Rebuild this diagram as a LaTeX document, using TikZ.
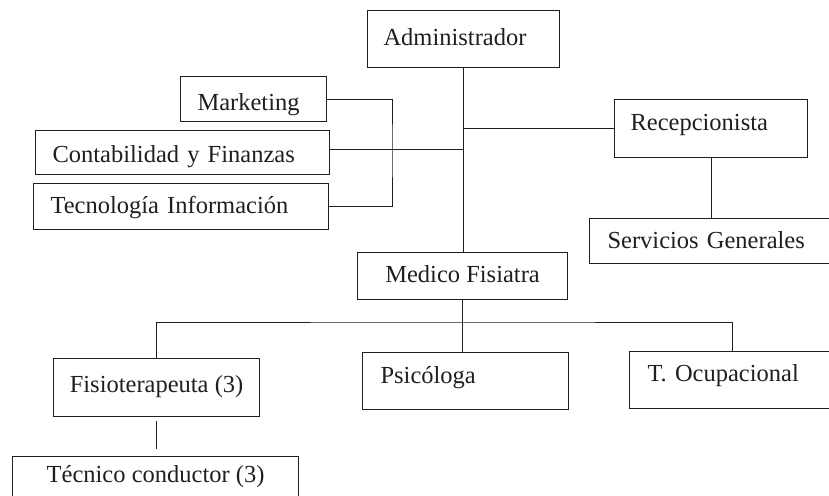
\documentclass[tikz,border=0pt]{standalone}
\usepackage{fontspec}
\setmainfont{Liberation Serif}
\usepackage{tikz}

\begin{document}
\begin{tikzpicture}[x=1pt,y=-1pt,line width=0.9pt,color=black!88,
		font=\fontsize{24.5}{28}\selectfont]
		\tikzstyle{unit}=[draw,rectangle,anchor=north west,inner sep=0pt,line width=1.1pt]
		\tikzstyle{lunit}=[unit,align=left,inner xsep=17pt]
		\useasboundingbox (0,0) rectangle (829,495);
		\clip (0,0) rectangle (829,495);
		
		\node[lunit,text width=160pt,inner xsep=16pt,text height=35pt,text depth=22pt] (adm) at (367,10) {Administrador};
		\node[lunit,text width=112pt,text height=34pt,text depth=11pt] (mkt) at (180,76) {Marketing};
		\node[lunit,text width=260pt,text height=32pt,text depth=12pt] (cyf) at (35,130) {Contabilidad y Finanzas};
		\node[lunit,text width=261pt,text height=30pt,text depth=16pt] (tec) at (33,183) {Tecnología Información};
		\node[lunit,text width=161pt,inner xsep=16pt,text height=31pt,text depth=27pt] (rec) at (614,99) {Recepcionista};
		\node[lunit,text width=210pt,inner xsep=18pt,text height=30pt,text depth=15pt] (sg) at (589,218) {Servicios Generales};
		\node[unit,minimum width=210pt,text height=30pt,text depth=17pt] (med) at (357,252) {Medico Fisiatra};
		\node[unit,minimum width=206pt,text height=34pt,text depth=24pt] (fis) at (53,358) {Fisioterapeuta (3)};
		\node[lunit,text width=170pt,inner xsep=18pt,text height=31pt,text depth=26pt] (psi) at (362,352) {Psicóloga};
		\node[lunit,text width=170pt,inner xsep=18pt,text height=30pt,text depth=27pt] (toc) at (629,351) {T. Ocupacional};
		\node[unit,minimum width=286pt,text height=26pt,text depth=24pt] (tcn) at (12,456) {Técnico conductor (3)};
		
		% staff units
		\coordinate (jn) at (392,149);
		\draw (mkt.east) -| (jn) |- (tec.east);
		\draw (cyf.east |- jn) -- (jn -| adm.south);
		\draw (adm.south) -- (adm.south |- med.north);
		\draw (rec.west) -- (rec.west -| adm.south);
		\draw (rec.south) -- (rec.south |- sg.north);
		
		% clinical units
		\coordinate (bus) at (461,322);
		\draw (med.south) -- (med.south |- psi.north);
		\draw (fis.north) |- (bus) -| (toc.north);
		\draw[shorten <=4pt,shorten >=7pt] (fis.south) -- (fis.south |- tcn.north);
\end{tikzpicture}
\end{document}
